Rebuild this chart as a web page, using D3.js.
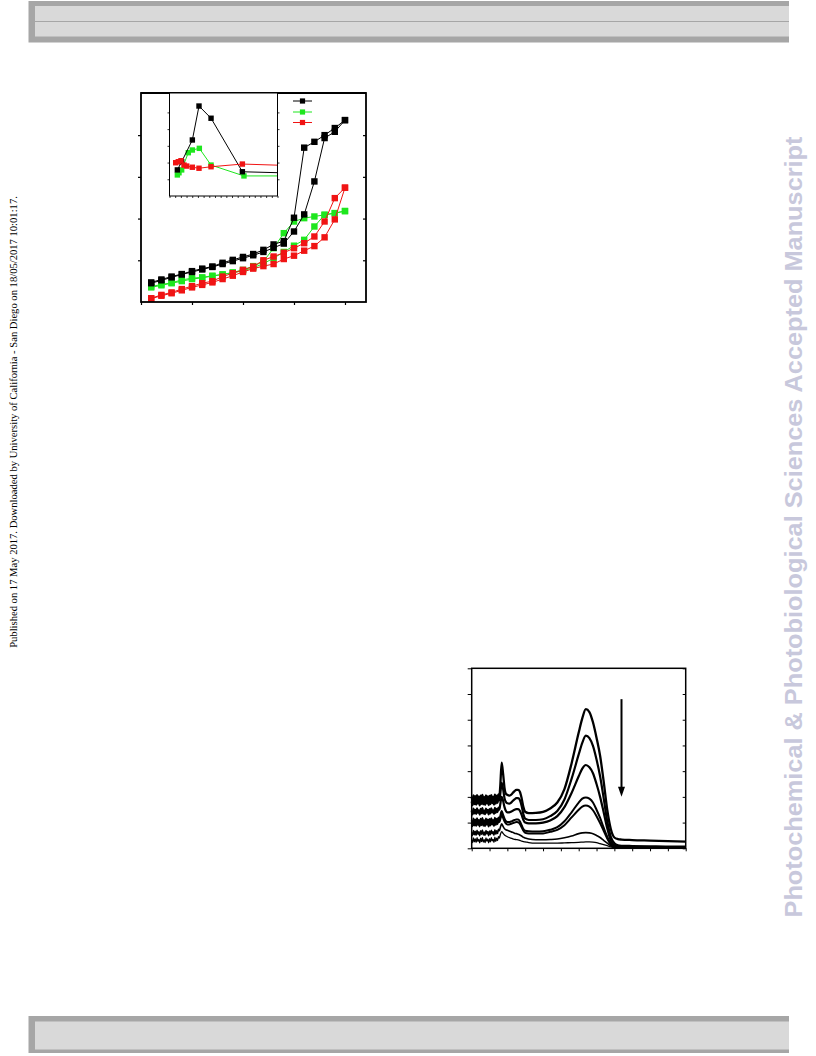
<!DOCTYPE html>
<html><head><meta charset="utf-8">
<script src="https://cdn.jsdelivr.net/npm/d3@7"></script>
<style>html,body{margin:0;padding:0;background:#fff;}svg{display:block;}</style>
</head><body>
<script>
// ---------- Main chart data ----------
const mainX = [1,2,3,4,5,6,7,8,9,10,11,12,13,14,15,16,17,18,19,20];
const blackA = [0.47,0.54,0.61,0.67,0.74,0.80,0.85,0.94,1.01,1.08,1.15,1.25,1.38,1.46,2.02,3.70,3.84,4.00,4.17,4.36];
const blackB = [0.45,0.52,0.59,0.66,0.72,0.78,0.84,0.91,0.98,1.05,1.12,1.20,1.30,1.40,1.69,2.10,2.89,3.93,4.08,4.36];
const greenA = [0.37,0.42,0.46,0.53,0.57,0.59,0.63,0.66,0.71,0.77,0.86,0.97,1.29,1.65,1.93,2.01,2.05,2.09,2.13,2.18];
const greenB = [0.35,0.40,0.45,0.50,0.55,0.58,0.62,0.66,0.70,0.75,0.82,0.92,1.05,1.20,1.35,1.49,1.81,2.09,2.13,2.18];
const redA   = [0.09,0.17,0.23,0.31,0.38,0.45,0.50,0.61,0.69,0.77,0.85,1.00,1.09,1.18,1.29,1.41,1.57,1.93,2.49,2.74];
const redB   = [0.08,0.15,0.21,0.28,0.35,0.41,0.47,0.55,0.63,0.72,0.80,0.86,0.91,1.03,1.11,1.23,1.34,1.55,1.98,2.74];
const mainXTicks = [0,5,10,15,20];
const mainYTicks = [1,2,3,4];

// ---------- Inset data ----------
const insetBlackX = [1.38,2.14,4.02,5.19,7.31,12.82,25];
const insetBlackY = [1.56,2.05,3.35,5.38,4.65,1.45,1.34];
const insetGreenX = [1.38,1.67,2.14,3.31,4.02,5.25,7.31,13.1,25];
const insetGreenY = [1.26,1.39,1.56,2.59,2.75,2.85,1.85,1.20,1.20];
const insetRedX = [1.09,1.55,2.02,2.55,3.03,4.02,5.19,7.31,12.82,25];
const insetRedY = [1.99,2.05,2.11,1.85,1.79,1.72,1.66,1.75,1.91,1.78];
const insetXTicks = [0,1,2,3,4,5,6,7,8,9,10,11,12,13,14,15,16,17,18,19];
const insetYTicks = [1,2,3,4,5];

// ---------- Spectrum data ----------
const wavelengths = [200,202.5,205,207.5,210,212.5,215,217.5,220,222.5,225,227.5,230,232.5,235,237.5,240,242.5,245,247.5,250,252.5,255,257.5,260,262.5,265,267.5,270,272.5,275,277.5,
  280,284,288,292,296,300,305,310,315,320,325,330,335,340,345,350,360,380,400,420,440,460,480,500,510,520,530,540,550,560,570,580,590,600,610,620,650,700,750,800];
const spec1 = [1.98,1.84,2.06,1.88,2.03,1.86,2.07,1.90,2.01,1.83,2.05,1.89,2.08,1.87,1.99,1.85,2.06,1.91,2.02,1.84,2.04,1.88,2.07,1.92,2.00,1.86,2.09,1.90,2.05,1.93,2.10,2.02,
  2.40,3.33,2.90,2.35,2.12,2.08,2.05,2.08,2.15,2.22,2.27,2.27,2.20,1.95,1.60,1.42,1.37,1.38,1.42,1.55,1.78,2.30,3.30,4.50,5.05,5.41,5.30,4.90,4.30,3.60,2.60,1.50,0.75,0.42,0.36,0.34,0.32,0.30,0.28,0.26];
const spec2 = [1.82,1.68,1.90,1.72,1.86,1.70,1.91,1.74,1.84,1.67,1.89,1.73,1.92,1.71,1.83,1.69,1.90,1.75,1.86,1.68,1.88,1.72,1.91,1.76,1.84,1.70,1.93,1.74,1.89,1.77,1.94,1.86,
  2.10,2.55,2.30,1.95,1.80,1.75,1.74,1.77,1.84,1.90,1.95,1.95,1.88,1.65,1.32,1.15,1.10,1.10,1.13,1.25,1.45,1.90,2.70,3.65,4.10,4.38,4.28,3.98,3.45,2.80,1.95,1.05,0.45,0.20,0.12,0.10,0.09,0.08,0.07,0.07];
const spec3 = [1.47,1.32,1.54,1.36,1.50,1.34,1.55,1.38,1.48,1.31,1.53,1.37,1.56,1.35,1.47,1.33,1.54,1.39,1.50,1.32,1.52,1.36,1.55,1.40,1.48,1.34,1.57,1.38,1.53,1.41,1.58,1.50,
  1.70,2.00,1.85,1.60,1.45,1.40,1.40,1.42,1.46,1.50,1.52,1.52,1.46,1.30,1.10,1.00,0.97,0.97,1.00,1.08,1.25,1.60,2.15,2.80,3.10,3.24,3.15,2.92,2.50,2.00,1.40,0.78,0.30,0.12,0.07,0.05,0.05,0.05,0.05,0.05];
const spec4 = [1.09,0.95,1.16,0.98,1.12,0.96,1.17,1.00,1.10,0.93,1.15,0.99,1.18,0.97,1.09,0.95,1.16,1.01,1.12,0.94,1.14,0.98,1.17,1.02,1.10,0.96,1.19,1.00,1.15,1.03,1.20,1.12,
  1.25,1.45,1.30,1.15,1.05,1.02,1.02,1.04,1.07,1.10,1.12,1.12,1.05,0.90,0.75,0.68,0.66,0.65,0.66,0.72,0.82,1.05,1.40,1.78,1.93,1.98,1.93,1.78,1.50,1.18,0.80,0.45,0.18,0.07,0.05,0.04,0.04,0.04,0.04,0.04];
const spec5 = [0.99,0.86,1.05,0.89,1.02,0.87,1.06,0.91,1.00,0.85,1.04,0.90,1.07,0.88,0.99,0.86,1.05,0.92,1.01,0.85,1.03,0.89,1.06,0.93,1.00,0.87,1.08,0.91,1.04,0.94,1.09,1.02,
  1.12,1.30,1.18,1.05,0.96,0.93,0.93,0.95,0.98,1.00,1.02,1.01,0.95,0.82,0.68,0.60,0.58,0.58,0.58,0.64,0.72,0.90,1.20,1.50,1.62,1.66,1.62,1.48,1.25,0.98,0.68,0.38,0.15,0.05,0.03,0.03,0.03,0.03,0.03,0.03];
const spec6 = [0.63,0.50,0.69,0.53,0.66,0.51,0.70,0.55,0.64,0.49,0.68,0.54,0.71,0.52,0.63,0.50,0.69,0.56,0.65,0.49,0.67,0.53,0.70,0.57,0.64,0.51,0.72,0.55,0.68,0.58,0.74,0.68,
  0.80,0.95,0.85,0.76,0.72,0.70,0.67,0.64,0.62,0.59,0.57,0.55,0.52,0.48,0.43,0.40,0.36,0.33,0.33,0.34,0.36,0.41,0.48,0.57,0.60,0.61,0.60,0.57,0.50,0.42,0.31,0.20,0.10,0.05,0.03,0.03,0.03,0.03,0.03,0.03];
const spec7 = [0.34,0.22,0.40,0.25,0.37,0.23,0.41,0.27,0.35,0.21,0.39,0.26,0.42,0.24,0.34,0.22,0.40,0.28,0.36,0.21,0.38,0.25,0.41,0.29,0.35,0.23,0.43,0.27,0.39,0.30,0.45,0.40,
  0.52,0.65,0.58,0.52,0.48,0.45,0.42,0.40,0.37,0.35,0.34,0.33,0.31,0.28,0.26,0.25,0.22,0.20,0.20,0.20,0.20,0.21,0.22,0.23,0.24,0.25,0.25,0.24,0.22,0.18,0.14,0.10,0.06,0.03,0.02,0.02,0.02,0.02,0.02,0.02];
const specWidths = [2.3,2.2,2.2,2.0,2.0,1.6,1.3];
const specXTicks = [200,250,300,350,400,450,500,550,600,650,700,750,800];
const specYTicks = [0,1,2,3,4,5,6,7];
const arrowWl = 620, arrowFrom = 5.8, arrowTo = 2.0;

const leftNote = "Published on 17 May 2017. Downloaded by University of California - San Diego on 18/05/2017 10:01:17.";
const watermark = "Photochemical & Photobiological Sciences Accepted Manuscript";

// ---------- Build ----------
const svg = d3.select("body").append("svg").attr("width",816).attr("height",1056);

// header / footer bars
svg.append("rect").attr("x",28.5).attr("y",1).attr("width",760.5).attr("height",41.5).attr("fill","#a6a6a6");
svg.append("rect").attr("x",35).attr("y",6).attr("width",754).attr("height",30.5).attr("fill","#d9d9d9");
svg.append("line").attr("x1",35).attr("x2",789).attr("y1",21.5).attr("y2",21.5).attr("stroke","#a6a6a6").attr("stroke-width",1.2);
svg.append("rect").attr("x",28.5).attr("y",1016).attr("width",760.5).attr("height",37).attr("fill","#a6a6a6");
svg.append("rect").attr("x",35).attr("y",1021.5).attr("width",754).attr("height",28).attr("fill","#d9d9d9");

// side texts
svg.append("text").attr("transform","translate(16.5,422) rotate(-90)")
  .attr("text-anchor","middle").attr("font-family","'Liberation Serif','Times New Roman',serif")
  .attr("font-size",10.6).attr("fill","#000").text(leftNote);
svg.append("text").attr("transform","translate(802,527) rotate(-90)")
  .attr("text-anchor","middle").attr("font-family","'Liberation Sans',Arial,sans-serif")
  .attr("font-weight","bold").attr("font-size",23.5).attr("fill","#c8c8dc")
  .attr("textLength",781).attr("lengthAdjust","spacingAndGlyphs").text(watermark);

// ---------- Main chart ----------
const mx = d3.scaleLinear().domain([0,22.06]).range([141,366]);
const my = d3.scaleLinear().domain([0,5.01]).range([302,93]);
const main = svg.append("g");
const colors = {black:"#000000", green:"#1ee61e", red:"#f01414"};
const mainSeries = [
  {v:greenB,c:colors.green},{v:greenA,c:colors.green},
  {v:redB,c:colors.red},{v:redA,c:colors.red},
  {v:blackB,c:colors.black},{v:blackA,c:colors.black}
];
const lineM = d3.line().x((d,i)=>mx(mainX[i])).y(d=>my(d));
mainSeries.forEach(s=>{
  main.append("path").attr("d",lineM(s.v)).attr("fill","none").attr("stroke",s.c).attr("stroke-width",1);
  main.selectAll(null).data(s.v).enter().append("rect")
    .attr("x",(d,i)=>mx(mainX[i])-3.2).attr("y",d=>my(d)-3.2)
    .attr("width",6.4).attr("height",6.4).attr("fill",s.c);
});
const gxm = main.append("g").attr("transform","translate(0,302)")
  .call(d3.axisBottom(mx).tickValues(mainXTicks).tickSize(3).tickFormat(""));
const gym = main.append("g").attr("transform","translate(141,0)")
  .call(d3.axisLeft(my).tickValues(mainYTicks).tickSize(3).tickFormat(""));
const gyr = main.append("g").attr("transform","translate(366,0)")
  .call(d3.axisLeft(my).tickValues(mainYTicks).tickSize(3).tickFormat(""));
[gxm,gym,gyr].forEach(g=>{g.select(".domain").remove(); g.selectAll("line").attr("stroke","#000").attr("stroke-width",1.2);});
main.append("rect").attr("x",141).attr("y",93).attr("width",225).attr("height",209)
  .attr("fill","none").attr("stroke","#000").attr("stroke-width",1.8);

// legend (no text)
const legendColors = [colors.black, colors.green, colors.red];
const legendY = [101,112,122.5];
legendColors.forEach((c,i)=>{
  main.append("line").attr("x1",293).attr("x2",312).attr("y1",legendY[i]).attr("y2",legendY[i]).attr("stroke",c).attr("stroke-width",1);
  main.append("rect").attr("x",302.5-2.6).attr("y",legendY[i]-2.6).attr("width",5.2).attr("height",5.2).attr("fill",c);
});

// ---------- Inset ----------
const ix = d3.scaleLinear().domain([0,19]).range([169.5,277.5]);
const iy = d3.scaleLinear().domain([0,6.1]).range([196,94]);
const inset = svg.append("g");
inset.append("rect").attr("x",169.5).attr("y",93).attr("width",108).attr("height",103).attr("fill","#fff");
svg.append("defs").append("clipPath").attr("id","insetClip").append("rect")
  .attr("x",169.5).attr("y",93).attr("width",108).attr("height",103);
const ig = inset.append("g").attr("clip-path","url(#insetClip)");
const insetSeries = [
  {x:insetGreenX,y:insetGreenY,c:colors.green},
  {x:insetBlackX,y:insetBlackY,c:colors.black},
  {x:insetRedX,y:insetRedY,c:colors.red}
];
insetSeries.forEach(s=>{
  const ln = d3.line().x((d,i)=>ix(s.x[i])).y(d=>iy(d));
  ig.append("path").attr("d",ln(s.y)).attr("fill","none").attr("stroke",s.c).attr("stroke-width",1);
  ig.selectAll(null).data(s.y).enter().append("rect")
    .attr("x",(d,i)=>ix(s.x[i])-2.7).attr("y",d=>iy(d)-2.7)
    .attr("width",5.4).attr("height",5.4).attr("fill",s.c);
});
const gix = inset.append("g").attr("transform","translate(0,196)")
  .call(d3.axisBottom(ix).tickValues(insetXTicks).tickSize(2).tickFormat(""));
const giy = inset.append("g").attr("transform","translate(169.5,0)")
  .call(d3.axisLeft(iy).tickValues(insetYTicks).tickSize(2).tickFormat(""));
const giyr = inset.append("g").attr("transform","translate(277.5,0)")
  .call(d3.axisRight(iy).tickValues(insetYTicks).tickSize(2).tickFormat(""));
[gix,giy,giyr].forEach(g=>{g.select(".domain").remove(); g.selectAll("line").attr("stroke","#000").attr("stroke-width",0.8);});
inset.append("rect").attr("x",169.5).attr("y",93).attr("width",108).attr("height",103)
  .attr("fill","none").attr("stroke","#000").attr("stroke-width",1);
main.append("line").attr("x1",141).attr("x2",366).attr("y1",93).attr("y2",93).attr("stroke","#000").attr("stroke-width",1.8);

// ---------- Spectrum ----------
const sx = d3.scaleLinear().domain([200,800]).range([471.7,685.7]);
const sy = d3.scaleLinear().domain([0,7]).range([848.3,668.3]);
const spec = svg.append("g");
const specs = [spec7,spec6,spec5,spec4,spec3,spec2,spec1];
const widthsRev = specWidths.slice().reverse();
const lineS = d3.line().x((d,i)=>sx(wavelengths[i])).y(d=>sy(d)).curve(d3.curveMonotoneX);
specs.forEach((s,k)=>{
  spec.append("path").attr("d",lineS(s)).attr("fill","none").attr("stroke","#000")
    .attr("stroke-width",widthsRev[k]).attr("stroke-linejoin","round");
});
const gsx = spec.append("g").attr("transform","translate(0,848.3)")
  .call(d3.axisBottom(sx).tickValues(specXTicks).tickSize(3).tickFormat(""));
const gsy = spec.append("g").attr("transform","translate(471.7,0)")
  .call(d3.axisLeft(sy).tickValues(specYTicks).tickSize(4).tickFormat(""));
const gsyr = spec.append("g").attr("transform","translate(685.7,0)")
  .call(d3.axisLeft(sy).tickValues(specYTicks).tickSize(3).tickFormat(""));
[gsx,gsy,gsyr].forEach(g=>{g.select(".domain").remove(); g.selectAll("line").attr("stroke","#000").attr("stroke-width",1);});
spec.append("rect").attr("x",471.7).attr("y",668.3).attr("width",214).attr("height",180)
  .attr("fill","none").attr("stroke","#000").attr("stroke-width",1.5);
const ax = sx(arrowWl), ay1 = sy(arrowFrom), ay2 = sy(arrowTo);
spec.append("line").attr("x1",ax).attr("x2",ax).attr("y1",ay1).attr("y2",ay2-8).attr("stroke","#000").attr("stroke-width",2);
spec.append("path").attr("d",`M${ax-3.5},${ay2-10} L${ax+3.5},${ay2-10} L${ax},${ay2} Z`).attr("fill","#000");
</script>
</body></html>
